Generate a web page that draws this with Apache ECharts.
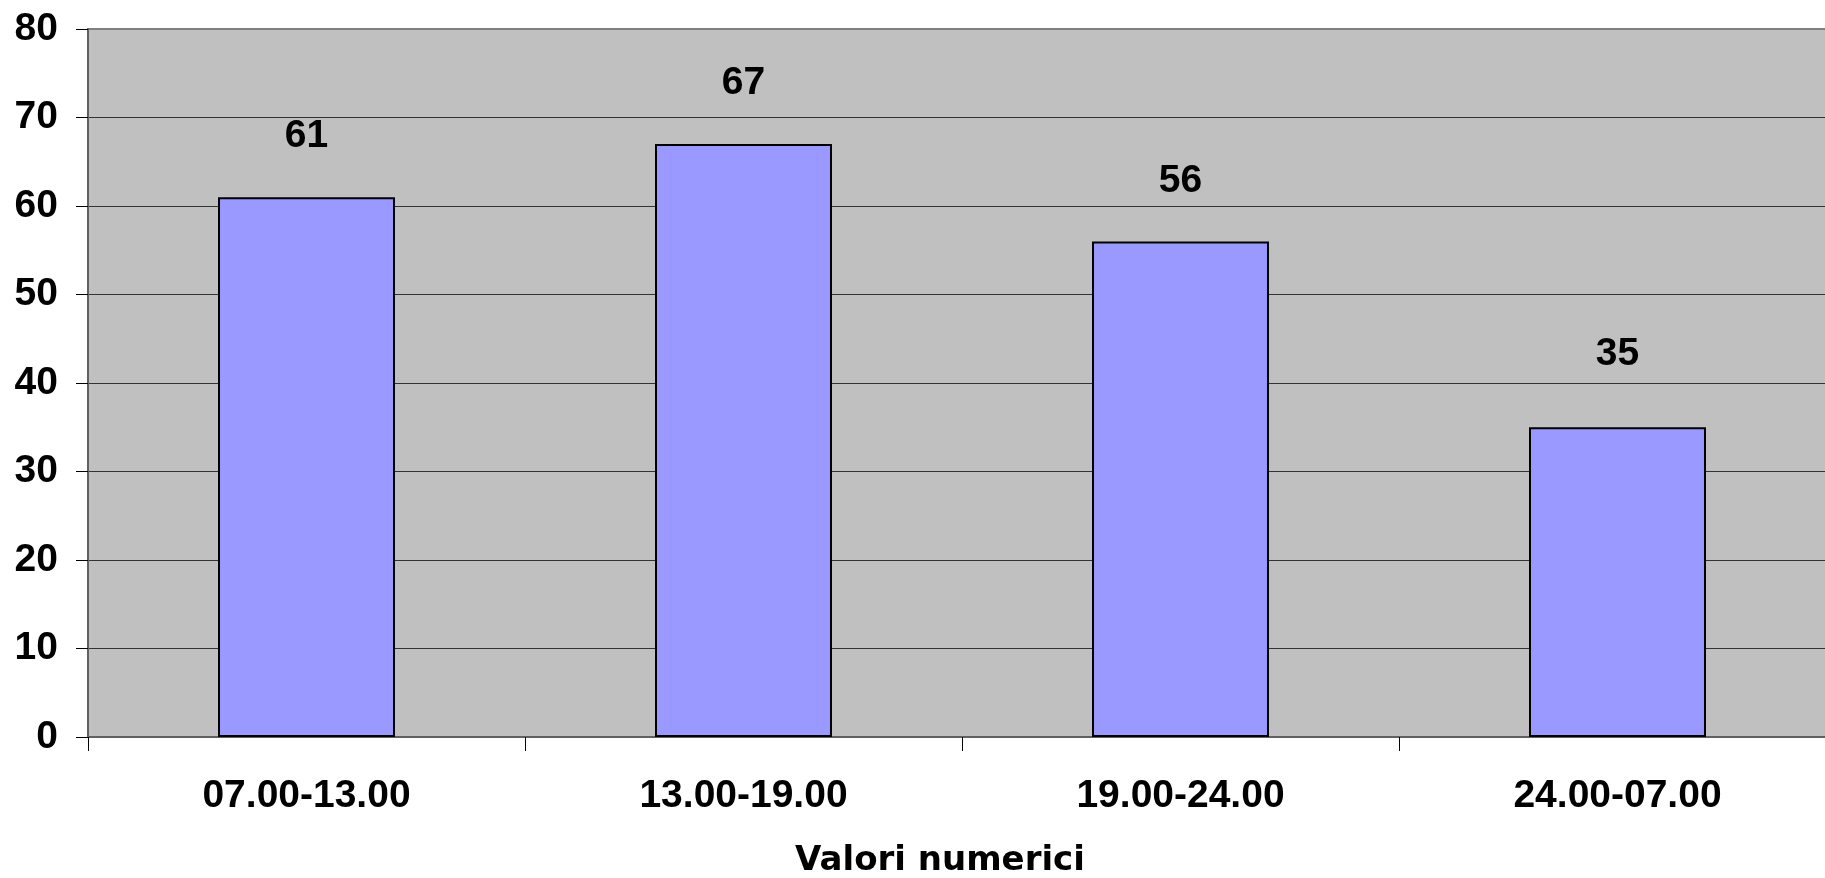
<!DOCTYPE html>
<html>
<head>
<meta charset="utf-8">
<script src="https://cdn.jsdelivr.net/npm/echarts@6/dist/echarts.min.js"></script>
<style>
html,body{margin:0;padding:0;background:#fff;overflow:hidden;width:1825px;height:878px;}
#chart{width:1836px;height:878px;}
</style>
</head>
<body>
<div id="chart"></div>
<script>
const categories = ['07.00-13.00', '13.00-19.00', '19.00-24.00', '24.00-07.00'];
const values = [61, 67, 56, 35];
const yTicks = [0, 10, 20, 30, 40, 50, 60, 70, 80];
const axisName = 'Valori numerici';

const FONT = '"Liberation Sans", Arial, sans-serif';
const chart = echarts.init(document.getElementById('chart'), null, {renderer: 'canvas'});

const seriesData = values.map((v, i) => {
  const item = {value: v};
  if (i === 3) item.label = {distance: 54};
  return item;
});

chart.setOption({
  animation: false,
  backgroundColor: '#ffffff',
  title: {
    text: axisName,
    left: 935,
    textAlign: 'center',
    top: 839,
    textStyle: {fontFamily: '"DejaVu Sans", sans-serif', fontWeight: 'bold', fontSize: 34, color: '#000'}
  },
  grid: {
    left: 88, top: 29, right: 0, bottom: 141,
    show: true, backgroundColor: '#c0c0c0', borderColor: '#808080', borderWidth: 2
  },
  xAxis: {
    type: 'category',
    data: categories,
    boundaryGap: true,
    axisLine: {show: true, lineStyle: {color: '#606060', width: 2}},
    axisTick: {show: true, length: 14, lineStyle: {color: '#000', width: 1}},
    axisLabel: {margin: 40, fontFamily: FONT, fontWeight: 'bold', fontSize: 39, color: '#000'},
    splitLine: {show: false}
  },
  yAxis: {
    type: 'value',
    min: yTicks[0],
    max: yTicks[yTicks.length - 1],
    interval: 10,
    axisLine: {show: true, lineStyle: {color: '#606060', width: 2}},
    axisTick: {show: true, length: 12, lineStyle: {color: '#000', width: 1}},
    axisLabel: {margin: 30, fontFamily: FONT, fontWeight: 'bold', fontSize: 39, color: '#000'},
    splitLine: {show: true, showMinLine: false, showMaxLine: false, lineStyle: {color: '#333333', width: 1}}
  },
  series: [{
    type: 'bar',
    data: seriesData,
    barWidth: '40.5%',
    itemStyle: {color: '#9999ff', borderColor: '#000000', borderWidth: 2},
    label: {
      show: true, position: 'top', distance: 41,
      fontFamily: FONT, fontWeight: 'bold', fontSize: 39, color: '#000'
    }
  }]
});
</script>
</body>
</html>
